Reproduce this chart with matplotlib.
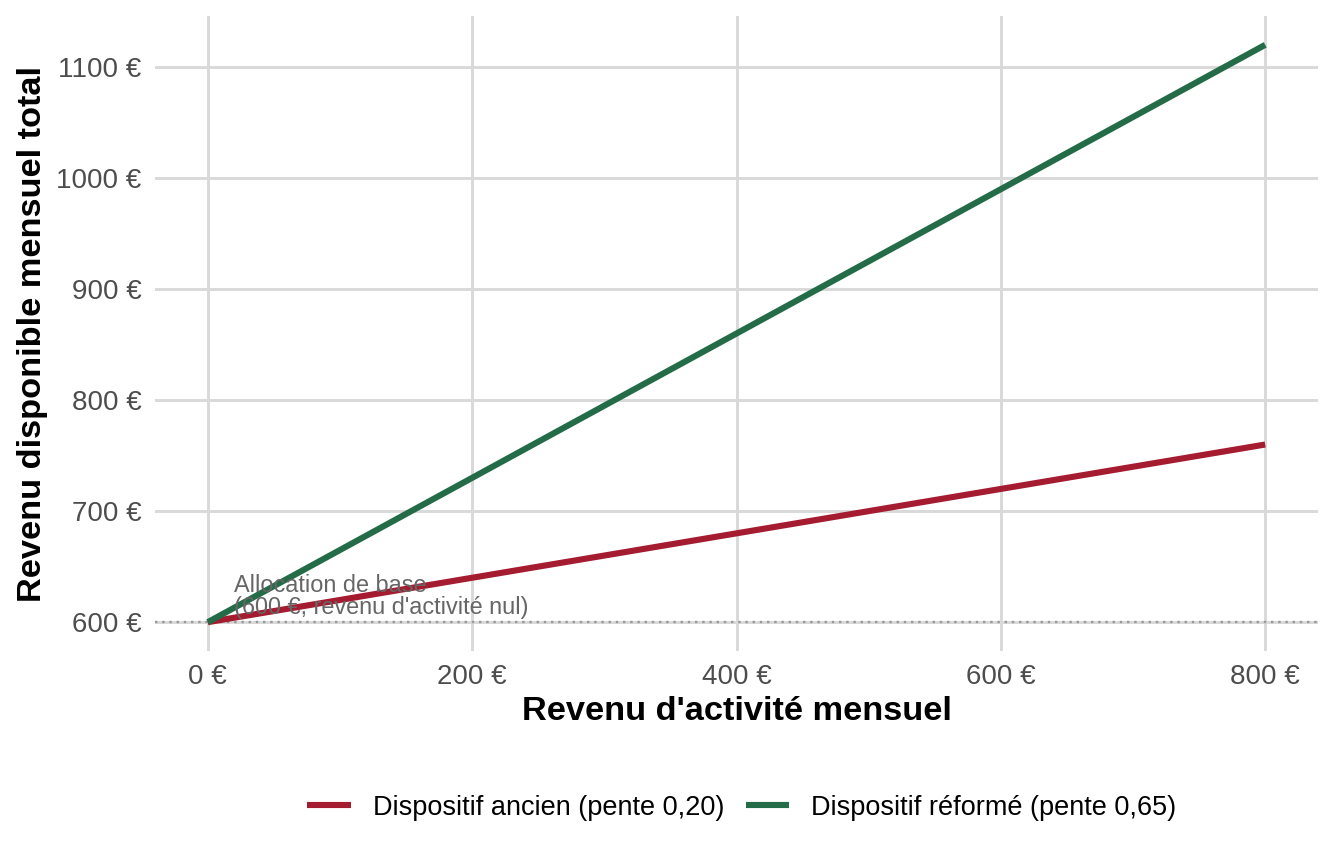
import matplotlib
matplotlib.use("Agg")
import matplotlib.pyplot as plt

# données
revenu_activite = [0, 200, 400, 600, 800]
dispositif_ancien = [600, 640, 680, 720, 760]
dispositif_reforme = [600, 730, 860, 990, 1120]
allocation_base = 600

x_ticks = [0, 200, 400, 600, 800]
y_ticks = [600, 700, 800, 900, 1000, 1100]

labels = ["Dispositif ancien (pente 0,20)", "Dispositif réformé (pente 0,65)"]
colors = ["#A51C30", "#246B47"]

plt.rcParams['font.family'] = ['Liberation Sans', 'DejaVu Sans']

fig = plt.figure(figsize=(7, 4.5), dpi=192)
ax = fig.add_axes([0.1153, 0.2465, 0.8654, 0.735])

ax.axhline(allocation_base, color="#999999", linestyle=(0, (1, 2)), linewidth=0.9, zorder=2)
ax.plot(revenu_activite, dispositif_ancien, color=colors[0], linewidth=2.3,
        label=labels[0], solid_capstyle="butt", zorder=3)
ax.plot(revenu_activite, dispositif_reforme, color=colors[1], linewidth=2.3,
        label=labels[1], solid_capstyle="butt", zorder=3)

ax.text(20, 603, "Allocation de base\n(600 €, revenu d'activité nul)",
        fontsize=8.8, color="#666666", ha="left", va="bottom", linespacing=0.95, zorder=4)

ax.set_xlim(-40, 840)
ax.set_ylim(574, 1146)
ax.set_xticks(x_ticks)
ax.set_yticks(y_ticks)
ax.set_xticklabels([f"{v} €" for v in x_ticks])
ax.set_yticklabels([f"{v} €" for v in y_ticks])

ax.grid(True, color="#D9D9D9", linewidth=1.1, zorder=0)
ax.set_axisbelow(True)
for s in ax.spines.values():
    s.set_visible(False)
ax.tick_params(length=0, labelsize=10.4, labelcolor="#4D4D4D", pad=5)

ax.set_xlabel("Revenu d'activité mensuel", fontsize=12.9, fontweight="bold", labelpad=2)
ax.set_ylabel("Revenu disponible mensuel total", fontsize=12.9, fontweight="bold", labelpad=3)

fig.legend(*ax.get_legend_handles_labels(), loc="center", bbox_to_anchor=(0.552, 0.065),
           ncol=2, frameon=False, fontsize=10.2, handlelength=1.6, columnspacing=0.8,
           handletextpad=0.8)

fig.savefig("out.png", dpi=192)
